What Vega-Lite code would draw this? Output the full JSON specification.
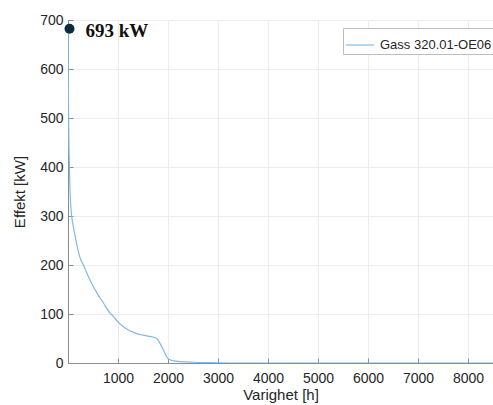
{
  "$schema": "https://vega.github.io/schema/vega-lite/v6.json",
  "autosize": {"type": "none"},
  "padding": {"left": 68, "top": 20, "right": 0, "bottom": 42},
  "width": 425,
  "height": 343,
  "background": "white",
  "config": {
    "view": {"stroke": null},
    "font": "Liberation Sans",
    "axis": {
      "labelFont": "Liberation Sans",
      "titleFont": "Liberation Sans",
      "labelFontSize": 14,
      "titleFontSize": 15,
      "titleFontWeight": "normal",
      "labelColor": "#262626",
      "titleColor": "#262626",
      "domainColor": "#8c8c8c",
      "tickColor": "#8c8c8c",
      "gridColor": "#ececec",
      "tickSize": -5
    }
  },
  "datasets": {
    "curve": [
      {"h": 0, "kW": 693}, {"h": 5, "kW": 600}, {"h": 10, "kW": 520}, {"h": 20, "kW": 440},
      {"h": 35, "kW": 370}, {"h": 50, "kW": 330}, {"h": 73, "kW": 300}, {"h": 100, "kW": 283},
      {"h": 150, "kW": 255}, {"h": 240, "kW": 215}, {"h": 307, "kW": 200}, {"h": 400, "kW": 178},
      {"h": 507, "kW": 156}, {"h": 600, "kW": 139}, {"h": 700, "kW": 124}, {"h": 840, "kW": 102},
      {"h": 907, "kW": 95}, {"h": 1000, "kW": 84}, {"h": 1107, "kW": 74}, {"h": 1200, "kW": 68},
      {"h": 1300, "kW": 63}, {"h": 1400, "kW": 59}, {"h": 1500, "kW": 57}, {"h": 1600, "kW": 55},
      {"h": 1700, "kW": 53}, {"h": 1760, "kW": 51}, {"h": 1800, "kW": 47}, {"h": 1840, "kW": 40},
      {"h": 1900, "kW": 28}, {"h": 1960, "kW": 15}, {"h": 2007, "kW": 8}, {"h": 2100, "kW": 5},
      {"h": 2240, "kW": 3}, {"h": 2500, "kW": 1.5}, {"h": 2973, "kW": 0.5}, {"h": 3200, "kW": 0},
      {"h": 8760, "kW": 0}
    ],
    "peak": [{"h": 30, "kW": 682, "label": "693 kW"}]
  },
  "layer": [
    {
      "mark": {"type": "rule", "color": "#8c8c8c", "strokeWidth": 1},
      "encoding": {"y": {"datum": 700, "type": "quantitative"}}
    },
    {
      "data": {"name": "curve"},
      "mark": {"type": "line", "strokeWidth": 1.2, "clip": true, "interpolate": "monotone"},
      "encoding": {
        "x": {
          "field": "h", "type": "quantitative",
          "scale": {"domain": [0, 8500], "nice": false},
          "axis": {"values": [1000, 2000, 3000, 4000, 5000, 6000, 7000, 8000], "title": "Varighet [h]",
                   "labelPadding": 13, "titlePadding": 2, "grid": true, "format": "d"}
        },
        "y": {
          "field": "kW", "type": "quantitative",
          "scale": {"domain": [0, 700], "nice": false},
          "axis": {"values": [0, 100, 200, 300, 400, 500, 600, 700], "title": "Effekt [kW]",
                   "labelPadding": 10, "titlePadding": 12, "grid": true}
        },
        "color": {
          "datum": "Gass 320.01-OE06",
          "scale": {"range": ["#80b9e6"]},
          "legend": {
            "title": null, "orient": "none", "legendX": 275, "legendY": 8,
            "symbolType": "stroke", "symbolSize": 784, "symbolStrokeWidth": 1.2,
            "labelFontSize": 13, "labelFont": "Liberation Sans", "labelColor": "#262626",
            "strokeColor": "#bdbdbd", "fillColor": "white", "padding": 2, "labelOffset": 5
          }
        }
      }
    },
    {
      "data": {"name": "peak"},
      "mark": {"type": "point", "filled": true, "size": 100, "color": "#0d2b3e", "opacity": 1},
      "encoding": {
        "x": {"field": "h", "type": "quantitative"},
        "y": {"field": "kW", "type": "quantitative"}
      }
    },
    {
      "data": {"name": "peak"},
      "mark": {"type": "text", "align": "left", "baseline": "middle", "dx": 16, "dy": 2,
               "font": "Liberation Serif", "fontSize": 19, "fontWeight": "bold", "color": "#111111"},
      "encoding": {
        "x": {"field": "h", "type": "quantitative"},
        "y": {"field": "kW", "type": "quantitative"},
        "text": {"field": "label"}
      }
    }
  ]
}
